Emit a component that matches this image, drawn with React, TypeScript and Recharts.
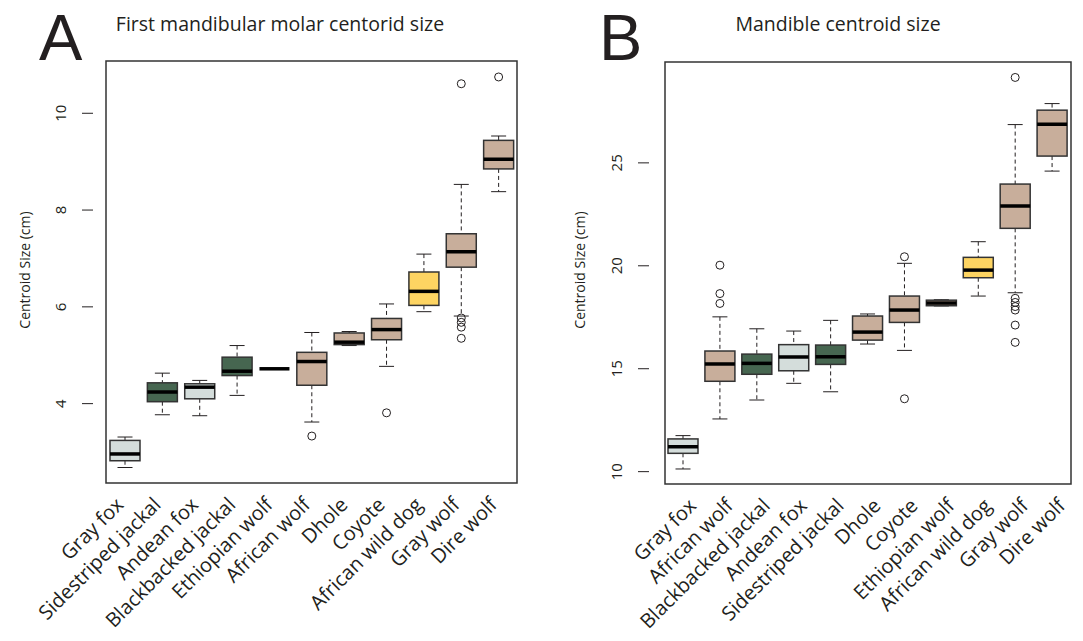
import React from 'react';
import { ComposedChart, Bar, XAxis, YAxis, ReferenceArea } from 'recharts';

// Panel A: first mandibular molar centroid size
const speciesA = ['Gray fox', 'Sidestriped jackal', 'Andean fox', 'Blackbacked jackal', 'Ethiopian wolf', 'African wolf', 'Dhole', 'Coyote', 'African wild dog', 'Gray wolf', 'Dire wolf'];
const groupA = ['fox', 'jackal', 'fox', 'jackal', 'wolf', 'wolf', 'wolf', 'wolf', 'dog', 'wolf', 'wolf'];
const lowA = [2.68, 3.77, 3.75, 4.17, 4.72, 3.62, 5.2, 4.77, 5.9, 5.81, 8.38];
const q1A = [2.82, 4.04, 4.1, 4.58, 4.72, 4.38, 5.22, 5.32, 6.03, 6.82, 8.85];
const medA = [2.96, 4.24, 4.34, 4.67, 4.72, 4.87, 5.27, 5.53, 6.32, 7.14, 9.05];
const q3A = [3.24, 4.43, 4.41, 4.96, 4.72, 5.06, 5.46, 5.76, 6.72, 7.51, 9.44];
const highA = [3.31, 4.63, 4.48, 5.2, 4.72, 5.47, 5.49, 6.06, 7.09, 8.53, 9.53];
const outA = [[], [], [], [], [], [3.33], [], [3.81], [], [5.77, 5.68, 5.58, 5.35, 10.61], [10.75]];
const ticksA = [4, 6, 8, 10];

// Panel B: mandible centroid size
const speciesB = ['Gray fox', 'African wolf', 'Blackbacked jackal', 'Andean fox', 'Sidestriped jackal', 'Dhole', 'Coyote', 'Ethiopian wolf', 'African wild dog', 'Gray wolf', 'Dire wolf'];
const groupB = ['fox', 'wolf', 'jackal', 'fox', 'jackal', 'wolf', 'wolf', 'wolf', 'dog', 'wolf', 'wolf'];
const lowB = [10.13, 12.56, 13.48, 14.29, 13.88, 16.2, 15.89, 18.05, 18.53, 18.69, 24.6];
const q1B = [10.89, 14.39, 14.73, 14.9, 15.21, 16.39, 17.25, 18.06, 19.42, 21.82, 25.33];
const medB = [11.21, 15.23, 15.26, 15.57, 15.58, 16.78, 17.85, 18.19, 19.79, 22.9, 26.88];
const q3B = [11.59, 15.86, 15.71, 16.17, 16.15, 17.56, 18.53, 18.33, 20.41, 23.97, 27.56];
const highB = [11.75, 17.52, 16.94, 16.83, 17.35, 17.66, 20.12, 18.35, 21.17, 26.86, 27.88];
const outB = [[], [20.03, 18.65, 18.17], [], [], [], [], [20.44, 13.54], [], [], [29.15, 18.42, 18.22, 18.02, 17.85, 17.12, 16.28], []];
const ticksB = [10, 15, 20, 25];

const groupColors: Record<string, string> = {
  fox: '#d4dddb',
  jackal: '#466650',
  wolf: '#c8ae9b',
  dog: '#fdd462',
};

const FONT = '"Open Sans", sans-serif';
const INK = '#231f20';

type Row = {
  name: string;
  group: string;
  low: number;
  q1: number;
  med: number;
  q3: number;
  high: number;
  outliers: number[];
};

function buildRows(species: string[], groups: string[], low: number[], q1: number[], med: number[], q3: number[], high: number[], outs: number[][]): Row[] {
  return species.map((name, i) => ({
    name,
    group: groups[i],
    low: low[i],
    q1: q1[i],
    med: med[i],
    q3: q3[i],
    high: high[i],
    outliers: outs[i],
  }));
}

// the bar spans the whole y domain, so its pixel box gives us the y scale
const makeBoxShape = (lo: number, hi: number) => (props: any) => {
  const { x, y, width, height, payload } = props;
  const top = Math.min(y, y + height);
  const h = Math.abs(height);
  const py = (v: number) => top + (h * (hi - v)) / (hi - lo);
  const cx = x + width / 2;
  const cap = width / 4;
  const d: Row = payload;
  return (
    <g>
      <line x1={cx} x2={cx} y1={py(d.high)} y2={py(d.q3)} stroke={INK} strokeWidth={1} strokeDasharray="4 3" />
      <line x1={cx} x2={cx} y1={py(d.q1)} y2={py(d.low)} stroke={INK} strokeWidth={1} strokeDasharray="4 3" />
      <line x1={cx - cap} x2={cx + cap} y1={py(d.high)} y2={py(d.high)} stroke={INK} strokeWidth={1} />
      <line x1={cx - cap} x2={cx + cap} y1={py(d.low)} y2={py(d.low)} stroke={INK} strokeWidth={1} />
      <rect x={x} y={py(d.q3)} width={width} height={Math.max(0, py(d.q1) - py(d.q3))} fill={groupColors[d.group]} stroke="#333" strokeWidth={1.5} />
      <line x1={x} x2={x + width} y1={py(d.med)} y2={py(d.med)} stroke="#000" strokeWidth={3.5} />
      {d.outliers.map((v, i) => (
        <circle key={i} cx={cx} cy={py(v)} r={4} fill="none" stroke={INK} strokeWidth={1} />
      ))}
    </g>
  );
};

const YTick = (props: any) => {
  const { x, y, payload } = props;
  const bx = x - 14;
  return (
    <text x={bx} y={y} transform={`rotate(-90, ${bx}, ${y})`} textAnchor="middle" fontSize={15} fontFamily={FONT} fill={INK}>
      {payload.value}
    </text>
  );
};

const makeXTick = (dx: number) => (props: any) => {
  const { x, y, payload } = props;
  const ax = x + dx;
  const ay = y + 23;
  return (
    <text x={ax} y={ay} transform={`rotate(-45, ${ax}, ${ay})`} textAnchor="end" fontSize={20} fontFamily={FONT} fill={INK}>
      {payload.value}
    </text>
  );
};

interface PanelProps {
  rows: Row[];
  domain: [number, number];
  ticks: number[];
  width: number;
  yAxisWidth: number;
  marginRight: number;
  top: number;
  xAxisHeight: number;
  labelDx: number;
  padding: { left: number; right: number };
}

function BoxPanel({ rows, domain, ticks, width, yAxisWidth, marginRight, top, xAxisHeight, labelDx, padding }: PanelProps) {
  const [lo, hi] = domain;
  return (
    <ComposedChart width={width} height={641} data={rows} margin={{ top, right: marginRight, left: 0, bottom: 0 }}>
      <ReferenceArea y1={lo} y2={hi} fill="none" stroke="#333" strokeWidth={1.5} ifOverflow="visible" />
      <XAxis
        dataKey="name"
        type="category"
        height={xAxisHeight}
        interval={0}
        padding={padding}
        tickLine={false}
        axisLine={false}
        tickSize={0}
        tickMargin={0}
        tick={makeXTick(labelDx)}
      />
      <YAxis
        type="number"
        domain={domain}
        ticks={ticks}
        allowDataOverflow
        width={yAxisWidth}
        axisLine={false}
        tickSize={11}
        tickMargin={2}
        tickLine={{ stroke: INK, strokeWidth: 1 }}
        tick={<YTick />}
      />
      <Bar dataKey={() => [lo, hi]} barSize={30} isAnimationActive={false} shape={makeBoxShape(lo, hi)} />
    </ComposedChart>
  );
}

const rowsA = buildRows(speciesA, groupA, lowA, q1A, medA, q3A, highA, outA);
const rowsB = buildRows(speciesB, groupB, lowB, q1B, medB, q3B, highB, outB);

const abs = (left: number, top: number): React.CSSProperties => ({ position: 'absolute', left, top });

export default function App() {
  return (
    <div style={{ position: 'absolute', left: 0, top: 0, width: 1083, height: 641, background: '#fff', fontFamily: FONT, color: INK }}>
      <div style={abs(0, 0)}>
        <BoxPanel rows={rowsA} domain={[2.36, 11.08]} ticks={ticksA} width={545} yAxisWidth={93} marginRight={13} top={61} xAxisHeight={158} labelDx={0} padding={{ left: 13, right: 15 }} />
      </div>
      <div style={abs(560, 0)}>
        <BoxPanel rows={rowsB} domain={[9.4, 29.9]} ticks={ticksB} width={523} yAxisWidth={89} marginRight={5} top={62} xAxisHeight={157} labelDx={14} padding={{ left: 16, right: 7 }} />
      </div>
      <svg width={1083} height={641} style={{ ...abs(0, 0), pointerEvents: 'none' }}>
        <text x={39} y={60} fontSize={65} fontFamily='"Liberation Sans", sans-serif' fill={INK}>A</text>
        <text x={599} y={60} fontSize={65} fontFamily='"Liberation Sans", sans-serif' fill={INK}>B</text>
        <text x={280} y={31} textAnchor="middle" fontSize={19.5} fontFamily={FONT} fill={INK}>First mandibular molar centorid size</text>
        <text x={838} y={31} textAnchor="middle" fontSize={19.5} fontFamily={FONT} fill={INK}>Mandible centroid size</text>
        <text x={30} y={270} transform="rotate(-90, 30, 270)" textAnchor="middle" fontSize={14} fontFamily={FONT} fill={INK}>Centroid Size (cm)</text>
        <text x={585} y={270} transform="rotate(-90, 585, 270)" textAnchor="middle" fontSize={14} fontFamily={FONT} fill={INK}>Centroid Size (cm)</text>
      </svg>
    </div>
  );
}
